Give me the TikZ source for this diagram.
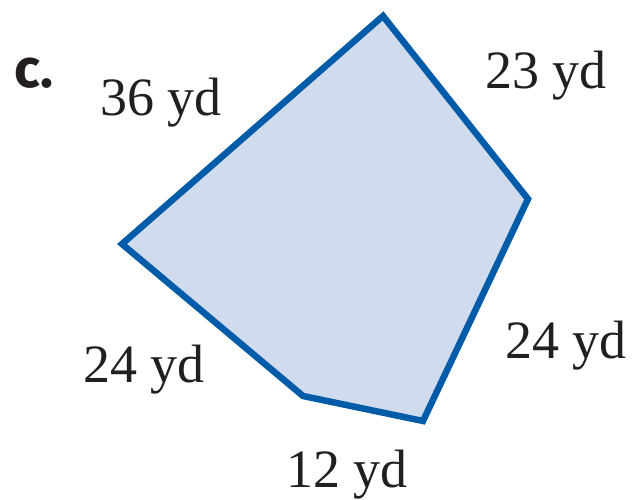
\documentclass[tikz,border=0pt]{standalone}
\usepackage{fontspec}
\setmainfont{Liberation Serif}
\newfontfamily\labelsans{Fira Sans}
\usepackage{tikz}
\definecolor{edgeblue}{RGB}{0,91,168}
\definecolor{faceblue}{RGB}{209,219,238}
\definecolor{inkgray}{RGB}{35,31,32}

\begin{document}
\begin{tikzpicture}[
        x=1pt, y=-1pt,
        figure/.style={draw=edgeblue, fill=faceblue, line width=6.5pt, line join=miter},
        length/.style={inner sep=0pt, anchor=base, text=inkgray,
                       font=\fontsize{54}{60}\selectfont},
        part/.style={inner sep=0pt, anchor=base west, text=inkgray,
                     font=\labelsans\bfseries\fontsize{54}{60}\selectfont}
    ]
        \useasboundingbox (0,0) rectangle (635,500);

        \coordinate (apex) at (383,16);
        \coordinate (east) at (528,199);
        \coordinate (southeast) at (423,421);
        \coordinate (south) at (303,396);
        \coordinate (west) at (122,244);

        \draw[figure] (apex) -- (east) -- (southeast) -- (south) -- (west) -- cycle;

        \node[part] (label) at (14,88) {c.};
        \node[length] (nw) at (161,116) {36 yd};
        \node[length] (ne) at (546,89) {23 yd};
        \node[length] (se) at (566,358) {24 yd};
        \node[length] (sw) at (144,382) {24 yd};
        \node[length] (s) at (347,487) {12 yd};
    \end{tikzpicture}
\end{document}
